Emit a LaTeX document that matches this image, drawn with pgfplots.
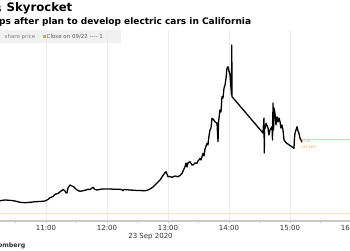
\documentclass[border=0pt]{standalone}
\usepackage{pgfplots}
\pgfplotsset{compat=1.18}
\usepackage{fontspec}
\setmainfont{DejaVu Sans}
\definecolor{gridc}{HTML}{ECECEC}
\definecolor{legbg}{HTML}{F1F1F1}
\definecolor{axisc}{HTML}{C9C9C9}
\definecolor{orangec}{HTML}{F0A23A}
\definecolor{closec}{HTML}{F3E7C6}
\definecolor{lastc}{HTML}{F7CF94}
\definecolor{txtc}{HTML}{333333}
\pgfplotstableread{
m y
14.8 49.3
19.7 50
24.6 49.7
29.5 49
34.4 47.7
39.3 47.3
44.3 47.7
49.2 48.3
54.1 48.5
59.0 49
62.0 50.5
63.9 52.3
66.9 53.5
68.8 55.7
71.8 56.5
73.8 58.3
75.7 59.5
76.7 60.7
78.7 59
79.7 57
80.7 57.3
81.6 62
83.6 65
85.6 64
87.5 63
89.5 60.7
91.5 59.5
93.4 58.7
96.4 59.3
99.3 60
101.3 60.7
103.3 60.5
106.2 62.7
108.2 60.5
110.2 60
113.1 60.7
116.1 61
123.0 61
127.9 60.7
132.8 60.7
134.8 60.2
135.7 59.3
136.7 60.5
142.6 60
150.5 59.5
157.4 59.3
160.3 60
162.3 61
165.2 63
167.2 65
169.2 67
172.1 70
174.1 73
176.1 76
178.0 78.3
179.0 76
180.0 73.3
182.0 73.5
183.9 72.7
186.9 74
189.8 73.3
191.8 74.5
193.8 76.7
195.7 81
196.7 83.3
197.7 87
198.7 83
199.7 87.3
201.6 88.3
203.6 85
204.6 85
206.5 87
208.5 86.7
209.5 89
211.5 91.7
212.5 90
214.4 96.7
215.4 94
216.4 101
218.4 106.7
219.3 105
220.3 114
221.3 120
222.3 122
223.3 131.7
224.3 131
226.2 128.3
228.2 126.7
229.2 108.3
229.7 128
231.1 140
232.1 138
233.1 153.3
234.1 152
235.1 162
236.1 165
237.1 172
238.0 181.7
239.0 183.3
241.0 175
242.5 155
242.7 205
243.0 153.3
273.4 117
274.4 132
274.7 97
275.0 120
276.4 126.7
278.4 122
279.3 115
280.3 120
282.3 123.3
282.8 110
283.3 147
283.8 120
284.3 142
285.2 137
286.2 125
287.2 133.3
288.2 128
289.2 132
290.2 128.3
291.1 122
292.1 125
293.1 120
294.1 110
296.1 107.3
300.0 104.5
303.9 101.7
304.4 112
304.9 116.7
305.9 120
306.9 123.3
307.9 119
308.8 116.7
309.8 112
310.8 110
311.8 107.7
}\price
\begin{document}
\begin{tikzpicture}[x=1pt,y=1pt]
\useasboundingbox (0,0) rectangle (350,250);
\fill[white] (0,0) rectangle (350,250);
\fill[legbg] (-5,207) rectangle (121,220);
\begin{axis}[
  at={(-15pt,29pt)}, anchor=south west,
  scale only axis, width=381.25pt, height=191pt,
  xmin=0, xmax=375, ymin=29, ymax=220,
  axis x line*=bottom, axis y line=none,
  x axis line style={axisc, line width=1.6pt},
  xtick={60,120,180,240,300,360},
  xticklabels={11:00,12:00,13:00,14:00,15:00,16:00},
  minor xtick={30,90,150,210,270,330},
  ytick={68,105.3,142.6,179.9,217.2},
  xmajorgrids, ymajorgrids,
  grid style={gridc, line width=0.8pt},
  tick align=outside,
  major tick length=2pt, minor tick length=2pt,
  tick style={axisc, line width=0.6pt},
  xticklabel style={font=\fontsize{7}{8}\selectfont, text=txtc, yshift=0.8pt},
  clip=false,
]
\addplot[closec, line width=0.8pt] coordinates {(0,37) (375,37)};
\addplot[lastc, line width=0.7pt] coordinates {(311,111) (375,111)};
\addplot[black, line width=1.3pt, line join=round] table[x=m,y=y] {\price};
\end{axis}
\node[anchor=west, inner sep=0pt, font=\fontsize{11.7}{13}\selectfont\bfseries, text=black] at (6.5,242) {Skyrocket};
\node[anchor=east, inner sep=0pt, font=\fontsize{11.7}{13}\selectfont\bfseries, text=black] at (1.8,242) {Shares};
\node[anchor=west, inner sep=0pt, font=\fontsize{9}{10}\selectfont\bfseries, text=black] at (-1,228) {ps after plan to develop electric cars in California};
\node[anchor=west, inner sep=0pt, font=\fontsize{5.5}{6}\selectfont, text=gray] at (4.5,213.5) {share price};
\fill[orangec] (42.5,211.7) rectangle (46,215.2);
\node[anchor=west, inner sep=0pt, font=\fontsize{5.5}{6}\selectfont, text=txtc!80] at (46.5,213.5) {Close on 09/22 -{}-{}-{}- 1};
\node[anchor=west, inner sep=0pt, font=\fontsize{3.4}{4}\selectfont, text=orangec] at (301,108.5) {35.81};
\node[anchor=west, inner sep=0pt, font=\fontsize{3.4}{4}\selectfont, text=orangec] at (301,103) {123.80\%};
\node[inner sep=0pt, font=\fontsize{7}{8}\selectfont, text=txtc] at (150.5,13) {23 Sep 2020};
\node[anchor=east, inner sep=0pt, font=\fontsize{6.3}{7}\selectfont\bfseries, text=txtc] at (25.5,4) {Source: Bloomberg};
\end{tikzpicture}
\end{document}
